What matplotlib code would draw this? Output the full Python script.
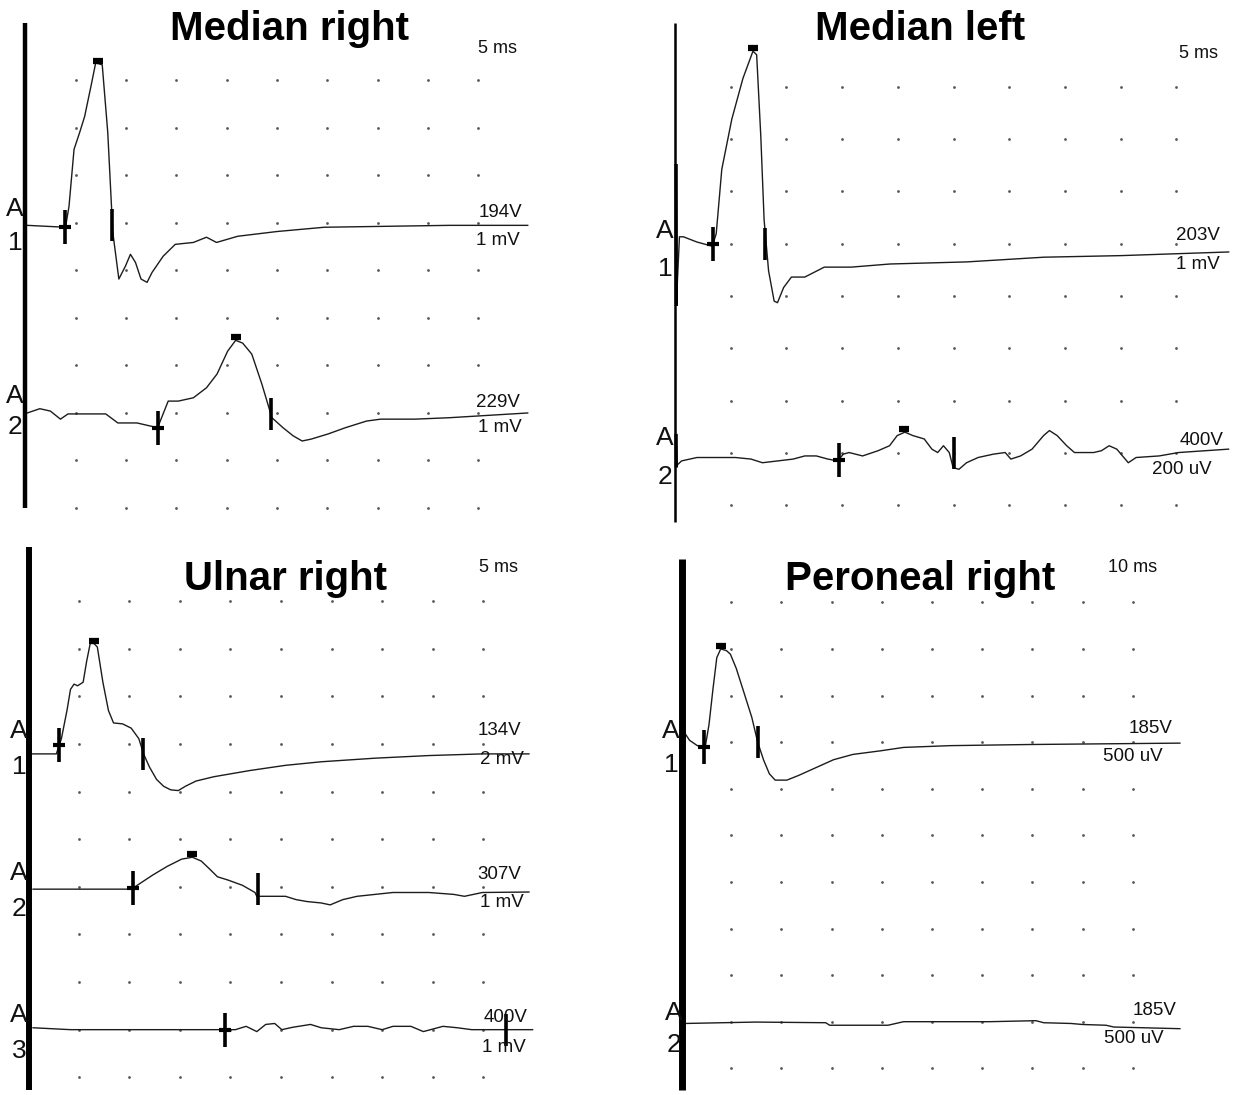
import numpy as np
import matplotlib
matplotlib.use("Agg")
import matplotlib.pyplot as plt

plt.rcParams['font.family'] = ['Liberation Sans', 'DejaVu Sans']

W, H = 1244, 1095

# ---------------- data: time (ms), amplitude (mV) ----------------
# Median right
mr_a1_t = [0.2, 4.0, 4.35, 4.85, 5.4, 5.9, 6.6, 7.0, 7.65, 8.2, 8.7, 9.3, 9.95, 10.45, 10.95,
           11.5, 12.1, 12.6, 13.7, 14.9, 16.7, 18.0, 19.0, 21.1, 25.0, 29.7, 42.1, 49.9]
mr_a1_v = [0, -0.04, 0.40, 1.60, 1.95, 2.29, 3.0, 3.42, 3.38, 1.95, -0.15, -1.13, -0.86, -0.61, -0.78,
           -1.13, -1.2, -0.99, -0.65, -0.40, -0.36, -0.25, -0.36, -0.23, -0.13, -0.04, 0, 0]
mr_a2_t = [0.2, 1.45, 2.5, 3.5, 4.25, 4.85, 8.0, 9.2, 11.1, 13.15, 14.2, 15.2, 16.7, 18.0, 19.05, 20.1,
           20.9, 21.6, 22.5, 23.5, 24.5, 25.6, 26.6, 27.5, 28.4, 30.1, 31.8, 33.9, 35.3, 38.7, 42.1, 49.9]
mr_a2_v = [0.02, 0.11, 0.06, -0.11, 0, 0, 0, -0.19, -0.19, -0.29, 0.27, 0.27, 0.34, 0.55, 0.84, 1.32,
           1.55, 1.49, 1.26, 0.63, -0.08, -0.29, -0.46, -0.57, -0.53, -0.42, -0.29, -0.15, -0.11, -0.11, -0.08, 0.02]

# Median left
ml_a1_t = [0.1, 0.12, 0.4, 0.76, 1.97, 3.35, 3.7, 4.2, 5.1, 6.1, 7.0, 7.33, 7.7, 8.0, 8.4, 8.9, 9.2,
           9.75, 10.45, 11.65, 13.4, 15.8, 19.3, 26.2, 33.1, 40.0, 49.7]
ml_a1_v = [1.49, -1.16, 0.13, 0.13, 0.03, -0.05, 0.19, 1.42, 2.38, 3.16, 3.68, 3.61, 2.06, 0.45, -0.52,
           -1.10, -1.13, -0.84, -0.64, -0.64, -0.45, -0.45, -0.39, -0.35, -0.26, -0.23, -0.16]
ml_a2_t = [0.1, 0.12, 0.59, 1.97, 5.43, 6.82, 7.85, 9.23, 10.61, 11.65, 12.69, 13.72, 14.60, 15.11,
           15.63, 16.84, 18.23, 19.26, 19.95, 20.64, 21.34, 22.37, 23.06, 23.58, 24.10, 24.62, 24.97,
           25.49, 26.17, 27.21, 28.60, 29.64, 30.15, 31.02, 32.05, 33.09, 33.61, 34.30, 35.16, 35.86,
           37.58, 38.28, 38.97, 39.66, 40.69, 41.39, 43.46, 45.20, 49.69]
ml_a2_v = [0.066, -0.05, -0.031, -0.018, -0.018, -0.024, -0.038, -0.031, -0.024, -0.012, -0.012,
           -0.024, -0.031, -0.005, 0.001, -0.012, 0.008, 0.027, 0.066, 0.079, 0.066, 0.053, 0.014,
           0.001, 0.027, 0.001, -0.057, -0.063, -0.038, -0.018, -0.005, 0.001, -0.024, -0.012, 0.014,
           0.066, 0.085, 0.066, 0.027, 0.001, 0.001, 0.008, 0.027, 0.014, -0.038, -0.018, -0.012,
           0.001, 0.014]

# Ulnar right
ur_a1_t = [0.32, 2.8, 3.3, 3.85, 4.2, 4.55, 4.9, 5.45, 5.8, 6.15, 6.5, 6.85, 7.4, 7.95, 8.45, 9.35,
           10.2, 10.95, 11.45, 12.0, 12.7, 13.4, 14.1, 14.85, 15.55, 16.6, 18.35, 21.9, 25.45, 29.0,
           34.3, 39.6, 44.9, 49.5]
ur_a1_v = [0, 0, 0.64, 1.82, 2.71, 2.93, 2.86, 3.01, 3.90, 4.64, 4.64, 4.49, 3.01, 1.82, 1.30, 1.26,
           1.08, 0.64, -0.03, -0.55, -1.07, -1.36, -1.51, -1.54, -1.36, -1.14, -0.96, -0.70, -0.48,
           -0.33, -0.18, -0.07, 0, 0]
ur_a2_t = [0.5, 10.22, 11.28, 12.35, 13.77, 15.18, 16.24, 17.12, 18.01, 18.72, 19.78, 21.2, 22.43,
           22.61, 25.44, 26.5, 27.57, 28.98, 29.86, 31.1, 32.52, 36.06, 39.6, 42.07, 43.13, 44.9, 49.5]
ur_a2_v = [-0.01, -0.01, 0.14, 0.29, 0.47, 0.62, 0.66, 0.58, 0.40, 0.25, 0.18, 0.07, -0.08, -0.16,
           -0.16, -0.23, -0.27, -0.30, -0.34, -0.23, -0.16, -0.08, -0.08, -0.12, -0.16, -0.08, -0.07]
ur_a3_t = [0.5, 4.21, 19.43, 20.49, 21.55, 22.61, 23.49, 24.38, 25.08, 26.15, 27.92, 28.98, 30.75,
           32.17, 33.58, 35.0, 36.06, 37.83, 39.07, 41.0, 42.43, 43.84, 49.86]
ur_a3_v = [0.04, 0, 0, 0, 0.07, -0.04, 0.11, 0.13, 0, 0.05, 0.11, 0.04, 0, 0.07, 0.07, 0, 0.07, 0.07,
           -0.04, 0.07, 0.04, 0, 0]

# Peroneal right
pr_a1_t = [0.78, 1.71, 3.26, 4.81, 5.58, 6.36, 7.13, 7.91, 9.07, 9.84, 11.0, 12.56, 14.11, 15.27,
           16.43, 17.6, 18.76, 21.09, 23.41, 26.51, 30.39, 34.26, 39.69, 44.34, 53.64, 69.15, 99.38]
pr_a1_v = [0.094, 0.019, -0.038, -0.057, 0.189, 0.566, 0.906, 1.0, 0.981, 0.943, 0.792, 0.528, 0.264,
           0.0, -0.189, -0.34, -0.408, -0.408, -0.358, -0.283, -0.189, -0.132, -0.094, -0.057, -0.038,
           -0.026, -0.011]
pr_a2_t = [0.78, 14.88, 28.84, 29.61, 41.24, 42.79, 44.34, 61.4, 70.7, 72.25, 77.67, 80.0, 84.65, 86.2, 99.38]
pr_a2_v = [-0.019, -0.004, -0.011, -0.038, -0.038, -0.019, 0, 0, 0.011, -0.011, -0.019, -0.030,
           -0.038, -0.057, -0.075]

titles = ["Median right", "Median left", "Ulnar right", "Peroneal right"]
sweep_labels = ["5 ms", "5 ms", "5 ms", "10 ms"]
sweep_ms = [5, 5, 5, 10]

# per channel: trace, sensitivity (mV/div), gain text, sensitivity text, markers (onset, peak, end) in ms
channels = [
    [(mr_a1_t, mr_a1_v, 1.0, "194V", "1 mV", (4.0, 7.2, 8.6)),
     (mr_a2_t, mr_a2_v, 1.0, "229V", "1 mV", (13.15, 20.9, 24.4))],
    [(ml_a1_t, ml_a1_v, 1.0, "203V", "1 mV", (3.4, 7.0, 8.1)),
     (ml_a2_t, ml_a2_v, 0.2, "400V", "200 uV", (14.7, 20.6, 25.0))],
    [(ur_a1_t, ur_a1_v, 2.0, "134V", "2 mV", (3.08, 6.5, 11.4)),
     (ur_a2_t, ur_a2_v, 1.0, "307V", "1 mV", (10.4, 16.2, 22.7)),
     (ur_a3_t, ur_a3_v, 1.0, "400V", "1 mV", (19.5, None, 47.2))],
    [(pr_a1_t, pr_a1_v, 0.5, "185V", "500 uV", (4.65, 7.9, 15.27)),
     (pr_a2_t, pr_a2_v, 0.5, "185V", "500 uV", (None, None, None))],
]

# ---------------- layout (pixels) ----------------
layout = [
    dict(x0=25.2, dx=50.35, y0=80.0, dy=47.5, nrows=10, bar=(25, 22.7, 508, 3.2),
         base=[3.06, 7.03], title=(289, 40), sweep=(517, 47),
         ach=[(15, 207, 241), (15, 393, 425)],
         right=[((522, 210), (520, 238)), ((520, 400), (522, 425))]),
    dict(x0=675.0, dx=55.7, y0=86.7, dy=52.3, nrows=9, bar=(675, 22.7, 522, 1.8),
         base=[3.0, 7.0], title=(920, 40), sweep=(1218, 52),
         ach=[(665, 228, 267), (665, 436, 474)],
         right=[((1220, 233), (1220, 262)), ((1224, 438), (1212, 467))]),
    dict(x0=28.0, dx=50.6, y0=601.0, dy=47.63, nrows=11, bar=(29, 547, 1090, 4.3),
         base=[3.21, 6.04, 9.0], title=(285, 590), sweep=(518, 566),
         ach=[(19, 728, 765), (19, 870, 907), (19, 1013, 1049)],
         right=[((521, 728), (524, 757)), ((521, 872), (524, 900)), ((527, 1015), (526, 1045))]),
    dict(x0=681.0, dx=50.2, y0=602.3, dy=46.6, nrows=11, bar=(682, 559, 1090, 5.0),
         base=[3.0, 9.0], title=(920, 590), sweep=(1157, 566),
         ach=[(671, 728, 762), (674, 1010, 1042)],
         right=[((1172, 726), (1163, 754)), ((1176, 1008), (1164, 1036))]),
]

fig = plt.figure(figsize=(W / 100, H / 100), dpi=100)
fig.patch.set_facecolor('white')


def fpos(x, y):
    return x / W, 1 - y / H


trace_color = '#1c1c1c'

for p in range(4):
    L = layout[p]
    ax = fig.add_axes([0, 0, 1, 1])
    ax.set_xlim(-L['x0'] / L['dx'], (W - L['x0']) / L['dx'])
    ax.set_ylim((H - L['y0']) / L['dy'], -L['y0'] / L['dy'])
    ax.axis('off')
    ax.patch.set_alpha(0)

    # dotted grid
    gx, gy = np.meshgrid(np.arange(1, 10), np.arange(L['nrows']))
    ax.scatter(gx.ravel(), gy.ravel(), s=4, c='0.35', linewidths=0, zorder=1)

    # left bar
    bx, btop, bbot, bw = L['bar']
    ax.plot([(bx - L['x0']) / L['dx']] * 2,
            [(btop - L['y0']) / L['dy'], (bbot - L['y0']) / L['dy']],
            color='black', lw=bw, solid_capstyle='butt', zorder=3)

    ms_div = sweep_ms[p]
    for c, (t, v, sens, gtxt, stxt, marks) in enumerate(channels[p]):
        base = L['base'][c]
        x = np.asarray(t) / ms_div
        y = base - np.asarray(v) / sens
        ax.plot(x, y, color=trace_color, lw=1.0, zorder=2)
        if p == 1:
            # stimulus artifact drawn heavier, as on the recording
            ax.plot(x[:2], y[:2], color='black', lw=2.4, zorder=3)
        onset, peak, end = marks
        if onset is not None:
            yo = np.interp(onset / ms_div, x, y)
            ax.plot(onset / ms_div, yo, marker='|', ms=24, mew=2.6, color='black', zorder=4)
            ax.plot(onset / ms_div, yo, marker='_', ms=8, mew=3, color='black', zorder=4)
        if end is not None:
            ax.plot(end / ms_div, base, marker='|', ms=23, mew=2.6, color='black', zorder=4)
        if peak is not None:
            yp = np.interp(peak / ms_div, x, y)
            ax.plot(peak / ms_div, yp - 0.06, marker='_', ms=7.5, mew=4.5, color='black', zorder=4)

        # channel labels
        axx, ay, ny = L['ach'][c]
        fig.text(*fpos(axx, ay + 9.5), "A", fontsize=19, ha='center', va='baseline', color='#111')
        fig.text(*fpos(axx, ny + 9.5), str(c + 1), fontsize=19, ha='center', va='baseline', color='#111')
        (gx_, gy_), (sx_, sy_) = L['right'][c]
        fig.text(*fpos(gx_, gy_ + 7), gtxt, fontsize=13.5, ha='right', va='baseline', color='#111')
        fig.text(*fpos(sx_, sy_ + 7), stxt, fontsize=13.5, ha='right', va='baseline', color='#111')

    tx, ty = L['title']
    fig.text(*fpos(tx, ty), titles[p], fontsize=29, fontweight='bold', ha='center', va='baseline')
    sx, sy = L['sweep']
    fig.text(*fpos(sx, sy + 6), sweep_labels[p], fontsize=13, ha='right', va='baseline', color='#111')

fig.savefig('out.png', dpi=100)
